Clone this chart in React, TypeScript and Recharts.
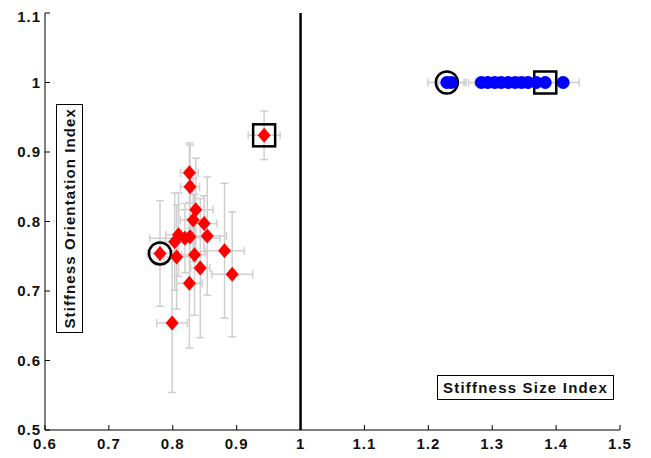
import { ScatterChart, Scatter, XAxis, YAxis, ErrorBar, ReferenceLine } from "recharts";

const xTicks = [0.6, 0.7, 0.8, 0.9, 1, 1.1, 1.2, 1.3, 1.4, 1.5];
const yTicks = [0.5, 0.6, 0.7, 0.8, 0.9, 1, 1.1];

// orientation index (red diamonds)
const orientX = [0.943, 0.826, 0.827, 0.836, 0.832, 0.849, 0.854, 0.809, 0.827, 0.819, 0.803, 0.78, 0.806, 0.834, 0.881, 0.843, 0.893, 0.826, 0.799];
const orientY = [0.924, 0.87, 0.85, 0.817, 0.802, 0.797, 0.779, 0.781, 0.778, 0.776, 0.771, 0.754, 0.749, 0.752, 0.758, 0.733, 0.724, 0.711, 0.654];
const orientErrX = [0.025, 0.014, 0.015, 0.027, 0.02, 0.02, 0.03, 0.02, 0.02, 0.055, 0.015, 0.02, 0.02, 0.02, 0.031, 0.015, 0.032, 0.02, 0.024];
const orientErrY = [0.035, 0.043, 0.06, 0.074, 0.06, 0.04, 0.085, 0.06, 0.07, 0.05, 0.07, 0.076, 0.075, 0.087, 0.097, 0.1, 0.09, 0.093, 0.1];

// size index (blue dots)
const sizeX = [1.229, 1.236, 1.283, 1.293, 1.304, 1.314, 1.325, 1.336, 1.346, 1.356, 1.369, 1.383, 1.411];
const sizeY = [1, 1, 1, 1, 1, 1, 1, 1, 1, 1, 1, 1, 1];
const sizeErrX = [0.03, 0.02, 0.02, 0.02, 0.02, 0.02, 0.02, 0.02, 0.02, 0.02, 0.02, 0.02, 0.025];

// highlighted points
const circleX = [0.78, 1.229];
const circleY = [0.754, 1];
const boxX = [0.943, 1.383];
const boxY = [0.924, 1];

const orientData = orientX.map((x, i) => ({ x, y: orientY[i], ex: orientErrX[i], ey: orientErrY[i] }));
const sizeData = sizeX.map((x, i) => ({ x, y: sizeY[i], ex: sizeErrX[i] }));
const circleData = circleX.map((x, i) => ({ x, y: circleY[i] }));
const boxData = boxX.map((x, i) => ({ x, y: boxY[i] }));

const font = "'Liberation Sans', Arial, sans-serif";
const tickStyle = { fontSize: 15, fontWeight: 700, fill: "#111", fontFamily: font, letterSpacing: 1 };
const fmt = (v: number) => String(Number(v.toFixed(1)));

const Nothing = () => <g />;
const Diamond = (p: any) => (
  <polygon
    points={`${p.cx},${p.cy - 7.5} ${p.cx + 6.5},${p.cy} ${p.cx},${p.cy + 7.5} ${p.cx - 6.5},${p.cy}`}
    fill="#ff0000"
  />
);
const BlueDot = (p: any) => <circle cx={p.cx} cy={p.cy} r={6.5} fill="#0000ff" />;
const Ring = (p: any) => <circle cx={p.cx} cy={p.cy} r={11} fill="none" stroke="#000" strokeWidth={2.5} />;
const Box = (p: any) => (
  <rect x={p.cx - 11} y={p.cy - 11} width={22} height={22} fill="none" stroke="#000" strokeWidth={2.5} />
);

const bar = { stroke: "#cfcfcf", strokeWidth: 1.5, width: 4 };

export default function App() {
  return (
    <div style={{ position: "relative", width: 643, height: 450, fontFamily: font }}>
      <ScatterChart width={643} height={450} margin={{ top: 5, right: 31, bottom: 0, left: 0 }}>
        <XAxis
          type="number"
          dataKey="x"
          domain={[0.6, 1.5]}
          ticks={xTicks}
          tickFormatter={fmt}
          height={28}
          tickSize={-5}
          tickMargin={13}
          tick={tickStyle}
          axisLine={{ stroke: "#000" }}
          tickLine={{ stroke: "#000" }}
          allowDataOverflow
        />
        <XAxis
          xAxisId="top"
          orientation="top"
          type="number"
          dataKey="x"
          domain={[0.6, 1.5]}
          ticks={xTicks}
          height={0}
          tickSize={-5}
          tick={false}
          axisLine={{ stroke: "#000" }}
          tickLine={{ stroke: "#000" }}
        />
        <YAxis
          type="number"
          dataKey="y"
          domain={[0.5, 1.1]}
          ticks={yTicks}
          tickFormatter={fmt}
          width={37}
          tickSize={-5}
          tickMargin={9}
          tick={tickStyle}
          axisLine={{ stroke: "#000" }}
          tickLine={{ stroke: "#000" }}
          allowDataOverflow
        />
        <YAxis
          yAxisId="right"
          orientation="right"
          type="number"
          dataKey="y"
          domain={[0.5, 1.1]}
          ticks={yTicks}
          width={0}
          tickSize={-5}
          tick={false}
          axisLine={{ stroke: "#000" }}
          tickLine={{ stroke: "#000" }}
        />
        <ReferenceLine x={1} stroke="#000" strokeWidth={2.5} />

        {/* error bars first */}
        <Scatter data={orientData} shape={Nothing} isAnimationActive={false}>
          <ErrorBar dataKey="ex" direction="x" {...bar} isAnimationActive={false} />
          <ErrorBar dataKey="ey" direction="y" {...bar} isAnimationActive={false} />
        </Scatter>
        <Scatter data={sizeData} shape={Nothing} isAnimationActive={false}>
          <ErrorBar dataKey="ex" direction="x" {...bar} isAnimationActive={false} />
        </Scatter>

        {/* highlight markers */}
        <Scatter data={circleData} shape={Ring} isAnimationActive={false} />
        <Scatter data={boxData} shape={Box} isAnimationActive={false} />

        {/* points */}
        <Scatter data={orientData} shape={Diamond} isAnimationActive={false} />
        <Scatter data={sizeData} shape={BlueDot} isAnimationActive={false} />
      </ScatterChart>

      <div
        style={{
          position: "absolute",
          left: 48,
          top: 96,
          width: 27,
          height: 229,
          border: "1.5px solid #000",
          boxSizing: "border-box",
          background: "#fff",
          display: "flex",
          alignItems: "center",
          justifyContent: "center",
        }}
      >
        <span
          style={{
            writingMode: "vertical-rl",
            transform: "rotate(180deg)",
            fontSize: 15,
            fontWeight: 700,
            letterSpacing: 1.1,
            color: "#111",
            whiteSpace: "nowrap",
          }}
        >
          Stiffness Orientation Index
        </span>
      </div>
      <div
        style={{
          position: "absolute",
          left: 429,
          top: 367,
          width: 177,
          height: 25,
          border: "1.5px solid #000",
          boxSizing: "border-box",
          background: "#fff",
          display: "flex",
          alignItems: "center",
          justifyContent: "center",
          fontSize: 15,
          fontWeight: 700,
          letterSpacing: 1.2,
          color: "#111",
          whiteSpace: "nowrap",
        }}
      >
        Stiffness Size Index
      </div>
    </div>
  );
}
